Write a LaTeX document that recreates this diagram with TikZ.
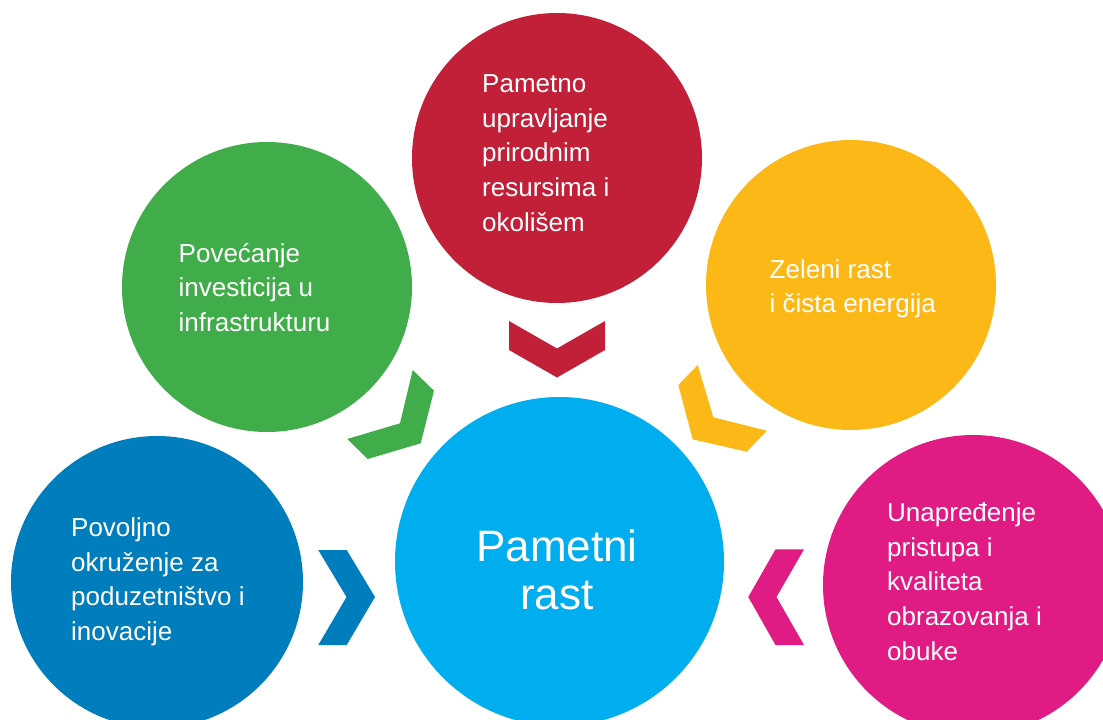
\documentclass[tikz,border=0pt]{standalone}
\usepackage{fontspec}
\setmainfont{Liberation Sans}
\definecolor{cRed}{HTML}{C12038}
\definecolor{cGreen}{HTML}{41AD4A}
\definecolor{cYellow}{HTML}{FCB817}
\definecolor{cBlue}{HTML}{007DBC}
\definecolor{cMag}{HTML}{E01B84}
\definecolor{cCyan}{HTML}{00AEEF}
\begin{document}
\begin{tikzpicture}[x=1pt,y=-1pt,
  bubble/.style={circle, inner sep=0pt, draw=none},
  lbl/.style={inner sep=0pt, anchor=base west, text=white, font=\fontsize{26}{34.6}\selectfont},
  chev/.style={draw=none}]
\useasboundingbox (0,0) rectangle (1103,720);
\clip (0,0) rectangle (1103,720);
\fill[white] (0,0) rectangle (1103,720);
% circles
\node[bubble, fill=cRed, minimum size=290pt] (red) at (557,158) {};
\node[bubble, fill=cGreen, minimum size=290pt] (green) at (267,287) {};
\node[bubble, fill=cYellow, minimum size=290pt] (yellow) at (851,285) {};
\node[bubble, fill=cBlue, minimum size=292pt] (blue) at (157,582) {};
\node[bubble, fill=cMag, minimum size=300pt] (mag) at (973,585) {};
\node[bubble, fill=cCyan, minimum size=329pt] (hub) at (559.5,561.5) {};
% chevrons
\fill[cRed, chev] (509,321) -- (557,348.5) -- (605,321) -- (605,350) -- (557,377.5) -- (509,350) -- cycle;
\fill[cGreen, chev] (412.7,370) -- (434,390.7) -- (420.7,443.3) -- (367.7,459) -- (347.3,439) -- (400,423.3) -- cycle;
\fill[cYellow, chev] (697.7,365) -- (713.3,417.3) -- (766.7,430.7) -- (746.7,451.7) -- (692.7,439.3) -- (678.3,385) -- cycle;
\fill[cBlue, chev] (318.3,550) -- (346.7,550) -- (375,597) -- (346.7,645) -- (318.3,645) -- (346.5,597) -- cycle;
\fill[cMag, chev] (804,549.3) -- (775.5,549.3) -- (748.3,597) -- (775.5,645) -- (804,645) -- (776.5,597) -- cycle;
% texts
\node[lbl] (tred) at (482,92.7) {\parbox[t]{200pt}{\raggedright Pametno\\upravljanje\\prirodnim\\resursima i\\okolišem}};
\node[lbl] (tgreen) at (178.5,262.3) {\parbox[t]{200pt}{\raggedright Povećanje\\investicija u\\infrastrukturu}};
\node[lbl] (tyellow) at (769.5,278.3) {\parbox[t]{200pt}{\raggedright Zeleni rast\\i čista energija}};
\node[lbl] (tblue) at (71,536.7) {\parbox[t]{200pt}{\raggedright Povoljno\\okruženje za\\poduzetništvo i\\inovacije}};
\node[lbl] (tmag) at (887,521.7) {\parbox[t]{200pt}{\raggedright Unapređenje\\pristupa i\\kvaliteta\\obrazovanja i\\obuke}};
\node[inner sep=0pt, anchor=base, text=white, font=\fontsize{44}{47.6}\selectfont] (thub) at (557,561.7) {\parbox[t]{300pt}{\centering Pametni\\rast}};
\end{tikzpicture}
\end{document}
